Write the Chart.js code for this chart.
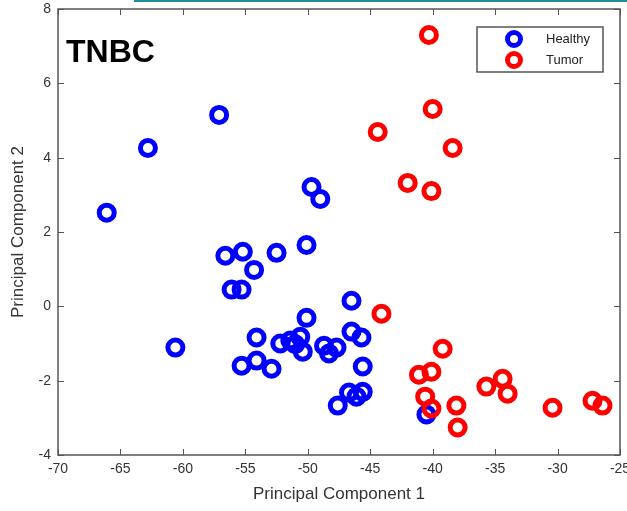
<!DOCTYPE html>
<html>
<head>
<meta charset="utf-8">
<script src="https://cdn.jsdelivr.net/npm/chart.js@4/dist/chart.umd.min.js"></script>
<style>
  html, body { margin: 0; padding: 0; background: #ffffff; }
  #wrap { position: relative; width: 627px; height: 511px; }
</style>
</head>
<body>
<div id="wrap"><canvas id="c" width="627" height="511"></canvas></div>
<script>
// ---- data ----
const seriesNames = ["Healthy", "Tumor"];
const healthyX = [-66.1, -62.8, -57.1, -49.7, -49.0, -50.1, -52.5, -55.2, -56.6, -54.3, -56.1, -55.3,
  -50.1, -46.5, -60.6, -54.1, -46.5, -45.7, -55.3, -54.1, -52.9, -52.2, -51.4, -50.6, -51.0, -50.4,
  -48.7, -48.3, -47.7, -45.6, -47.6, -46.7, -46.1, -45.6, -40.5];
const healthyY = [2.52, 4.26, 5.15, 3.21, 2.89, 1.65, 1.44, 1.47, 1.36, 0.98, 0.45, 0.45,
  -0.31, 0.15, -1.11, -0.84, -0.68, -0.84, -1.60, -1.46, -1.68, -1.00, -0.92, -0.82, -1.02, -1.22,
  -1.06, -1.27, -1.11, -1.62, -2.67, -2.32, -2.43, -2.30, -2.91];
const tumorX = [-40.3, -40.0, -44.4, -38.4, -42.0, -40.1, -44.1, -39.2, -41.1, -40.1, -40.6, -40.1,
  -38.1, -38.0, -35.7, -34.4, -34.0, -30.4, -27.2, -26.4];
const tumorY = [7.30, 5.31, 4.69, 4.26, 3.32, 3.10, -0.20, -1.14, -1.84, -1.76, -2.43, -2.75,
  -2.67, -3.26, -2.16, -1.95, -2.35, -2.73, -2.54, -2.67];
const xTicks = [-70, -65, -60, -55, -50, -45, -40, -35, -30, -25];
const yTicks = [-4, -2, 0, 2, 4, 6, 8];
const xTitle = "Principal Component 1";
const yTitle = "Principal Component 2";
const panelLabel = "TNBC";

const toPoints = (xs, ys) => xs.map((x, i) => ({ x: x, y: ys[i] }));
const colors = { Healthy: "#0000ff", Tumor: "#ff0000" };
const FONT = "'Liberation Sans', Arial, sans-serif";
const AXIS_COLOR = "#555555";
const TEXT_COLOR = "#333333";

const framePlugin = {
  id: "frame",
  afterDraw(chart) {
    const ctx = chart.ctx;
    const a = chart.chartArea;
    const xs = chart.scales.x, ys = chart.scales.y;
    ctx.save();
    // teal decorative line at top
    ctx.strokeStyle = "#1f8e9e";
    ctx.lineWidth = 2;
    ctx.beginPath(); ctx.moveTo(134, 1); ctx.lineTo(627, 1); ctx.stroke();
    // plot frame
    ctx.strokeStyle = AXIS_COLOR;
    ctx.lineWidth = 1.5;
    ctx.strokeRect(a.left, a.top, a.right - a.left, a.bottom - a.top);
    // inward ticks on all four sides
    const tl = 6;
    ctx.lineWidth = 1;
    ctx.beginPath();
    xTicks.forEach(v => {
      const px = Math.round(xs.getPixelForValue(v)) + 0.5;
      ctx.moveTo(px, a.bottom); ctx.lineTo(px, a.bottom - tl);
      ctx.moveTo(px, a.top); ctx.lineTo(px, a.top + tl);
    });
    yTicks.forEach(v => {
      const py = Math.round(ys.getPixelForValue(v)) + 0.5;
      ctx.moveTo(a.left, py); ctx.lineTo(a.left + tl, py);
      ctx.moveTo(a.right, py); ctx.lineTo(a.right - tl, py);
    });
    ctx.stroke();
    // panel label
    ctx.fillStyle = "#000000";
    ctx.font = "bold 32px " + FONT;
    ctx.textBaseline = "alphabetic";
    ctx.textAlign = "left";
    ctx.fillText(panelLabel, 66, 62);
    // legend
    const lx = 477, ly = 27, lw = 126, lh = 45;
    ctx.fillStyle = "#ffffff";
    ctx.fillRect(lx, ly, lw, lh);
    ctx.strokeStyle = AXIS_COLOR;
    ctx.lineWidth = 1.5;
    ctx.strokeRect(lx, ly, lw, lh);
    chart.data.datasets.forEach((ds, i) => {
      const cy = 39 + i * 21;
      ctx.strokeStyle = ds.borderColor;
      ctx.lineWidth = 5;
      ctx.beginPath(); ctx.arc(514, cy, 6.5, 0, Math.PI * 2); ctx.stroke();
      ctx.fillStyle = "#222222";
      ctx.font = "13px " + FONT;
      ctx.textBaseline = "middle";
      ctx.fillText(ds.label, 546, cy);
    });
    ctx.restore();
  }
};

new Chart(document.getElementById("c"), {
  type: "scatter",
  data: {
    datasets: [
      { label: seriesNames[0], data: toPoints(healthyX, healthyY), borderColor: colors.Healthy,
        backgroundColor: "rgba(0,0,0,0)", pointRadius: 7.5, pointBorderWidth: 5, pointHoverRadius: 7.5, order: 1 },
      { label: seriesNames[1], data: toPoints(tumorX, tumorY), borderColor: colors.Tumor,
        backgroundColor: "rgba(0,0,0,0)", pointRadius: 7.5, pointBorderWidth: 5, pointHoverRadius: 7.5, order: 0 }
    ]
  },
  options: {
    responsive: false,
    animation: false,
    layout: { autoPadding: false, padding: { top: 9, right: 7, left: 0, bottom: 0 } },
    plugins: { legend: { display: false }, tooltip: { enabled: false } },
    scales: {
      x: {
        type: "linear", min: -70, max: -25,
        afterBuildTicks: s => { s.ticks = xTicks.map(v => ({ value: v })); },
        afterFit: s => { s.height = 56; s.paddingLeft = 0; s.paddingRight = 0; },
        grid: { display: false, drawTicks: false },
        border: { display: false },
        ticks: { color: TEXT_COLOR, font: { family: FONT, size: 14 }, padding: 6, maxRotation: 0, autoSkip: false },
        title: { display: true, text: xTitle, color: TEXT_COLOR, font: { family: FONT, size: 17 }, padding: { top: 4, bottom: 6 } }
      },
      y: {
        type: "linear", min: -4, max: 8,
        afterBuildTicks: s => { s.ticks = yTicks.map(v => ({ value: v })); },
        afterFit: s => { s.width = 58; s.paddingTop = 0; s.paddingBottom = 0; },
        grid: { display: false, drawTicks: false },
        border: { display: false },
        ticks: { color: TEXT_COLOR, font: { family: FONT, size: 14 }, padding: 7, autoSkip: false },
        title: { display: true, text: yTitle, color: TEXT_COLOR, font: { family: FONT, size: 17 }, padding: { top: 8, bottom: 4 } }
      }
    }
  },
  plugins: [framePlugin]
});
</script>
</body>
</html>
